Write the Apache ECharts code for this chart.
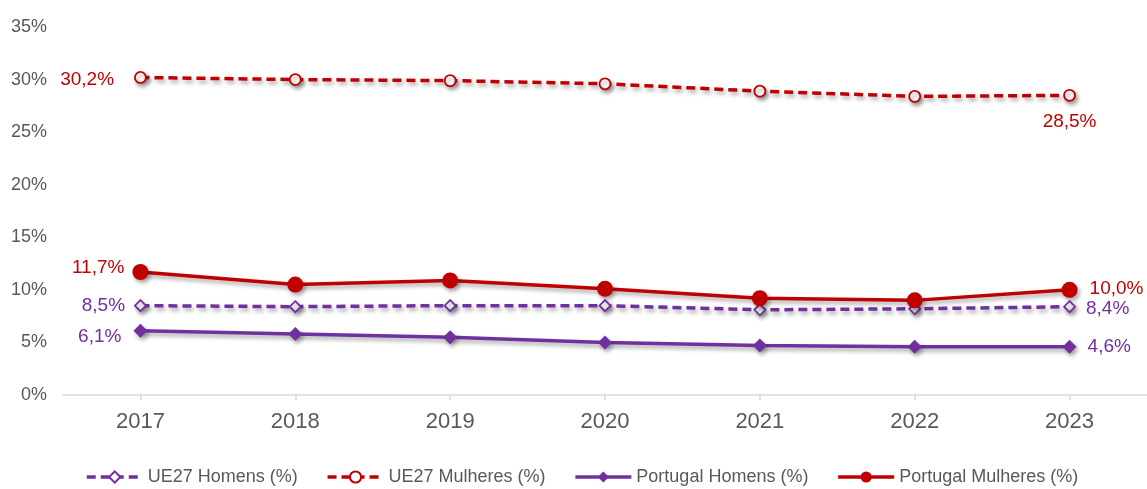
<!DOCTYPE html>
<html>
<head>
<meta charset="utf-8">
<script src="https://cdn.jsdelivr.net/npm/echarts@6/dist/echarts.min.js"></script>
<style>
  html, body { margin: 0; padding: 0; background: #fff; }
  #chart { width: 1147px; height: 489px; }
</style>
</head>
<body>
<div id="chart"></div>
<script>
// Years on the category axis
const years = ['2017', '2018', '2019', '2020', '2021', '2022', '2023'];

// Rates in percent
const ue27Homens = [8.5, 8.4, 8.5, 8.5, 8.1, 8.2, 8.4];
const ue27Mulheres = [30.2, 30.0, 29.9, 29.6, 28.9, 28.4, 28.5];
const ptHomens = [6.1, 5.8, 5.5, 5.0, 4.7, 4.6, 4.6];
const ptMulheres = [11.7, 10.5, 10.9, 10.1, 9.2, 9.0, 10.0];

// Y axis ticks
const yMin = 0, yMax = 35, yStep = 5;

const RED = '#C00000';
const PURPLE = '#7030A0';
const GREY_TEXT = '#595959';
const FONT = 'Liberation Sans, Arial, sans-serif';

const fmt = v => v.toFixed(1).replace('.', ',') + '%';

const shadow = {
  shadowColor: 'rgba(0,0,0,0.35)',
  shadowBlur: 4,
  shadowOffsetX: 2,
  shadowOffsetY: 3
};

// Wrap values; only first and last points carry a value label
function withLabels(values, color, firstLabel, lastLabel) {
  return values.map((v, i) => {
    const item = { value: v };
    let lab = null;
    if (i === 0) lab = firstLabel;
    if (i === values.length - 1) lab = lastLabel;
    if (lab) {
      item.label = Object.assign({
        show: true,
        color: color,
        fontSize: 19,
        fontFamily: FONT,
        formatter: p => fmt(p.value)
      }, lab);
    }
    return item;
  });
}

function lineSeries(name, values, color, dashed, symbol, size, empty, firstLabel, lastLabel) {
  return {
    name: name,
    type: 'line',
    data: withLabels(values, color, firstLabel, lastLabel),
    symbol: symbol,
    symbolSize: size,
    showAllSymbol: true,
    lineStyle: Object.assign({
      color: color,
      width: 3.5,
      type: dashed ? [9, 5] : 'solid'
    }, shadow),
    itemStyle: Object.assign({
      color: empty ? '#ffffff' : color,
      borderColor: color,
      borderWidth: empty ? 1.8 : 0
    }, shadow),
    emphasis: { disabled: true },
    z: dashed ? 2 : 3
  };
}

const chart = echarts.init(document.getElementById('chart'), null, { renderer: 'canvas' });

chart.setOption({
  animation: false,
  backgroundColor: '#ffffff',
  textStyle: { fontFamily: FONT },
  grid: { left: 63, top: 27, width: 1085, height: 368, containLabel: false },
  legend: {
    top: 463,
    left: 80,
    itemWidth: 56,
    itemHeight: 14,
    itemGap: 28,
    lineStyle: { width: 3.5 },
    textStyle: { color: GREY_TEXT, fontSize: 18, fontFamily: FONT },
    data: ['UE27 Homens (%)', 'UE27 Mulheres (%)', 'Portugal Homens (%)', 'Portugal Mulheres (%)']
  },
  xAxis: {
    type: 'category',
    data: years,
    boundaryGap: true,
    axisLine: { show: true, lineStyle: { color: '#d9d9d9', width: 1.5 } },
    axisTick: { show: true, alignWithLabel: true, length: 5, lineStyle: { color: '#d9d9d9', width: 1.5 } },
    axisLabel: { color: GREY_TEXT, fontSize: 22, margin: 16, fontFamily: FONT },
    splitLine: { show: false }
  },
  yAxis: {
    type: 'value',
    min: yMin,
    max: yMax,
    interval: yStep,
    axisLine: { show: false },
    axisTick: { show: false },
    splitLine: { show: false },
    axisLabel: { color: GREY_TEXT, fontSize: 18, margin: 16, fontFamily: FONT, formatter: '{value}%' }
  },
  series: [
    lineSeries('UE27 Homens (%)', ue27Homens, PURPLE, true, 'diamond', 11, true,
      { position: 'left', distance: 9 },
      { position: 'right', distance: 10, offset: [0, 2] }),
    lineSeries('UE27 Mulheres (%)', ue27Mulheres, RED, true, 'circle', 11, true,
      { position: 'left', distance: 20, offset: [0, 2] },
      { position: 'bottom', distance: 11 }),
    lineSeries('Portugal Homens (%)', ptHomens, PURPLE, false, 'diamond', 14, false,
      { position: 'left', distance: 12, offset: [0, 6] },
      { position: 'right', distance: 11 }),
    lineSeries('Portugal Mulheres (%)', ptMulheres, RED, false, 'circle', 16, false,
      { position: 'left', distance: 8, offset: [0, -4] },
      { position: 'right', distance: 12, offset: [0, -1] })
  ]
});
</script>
</body>
</html>
